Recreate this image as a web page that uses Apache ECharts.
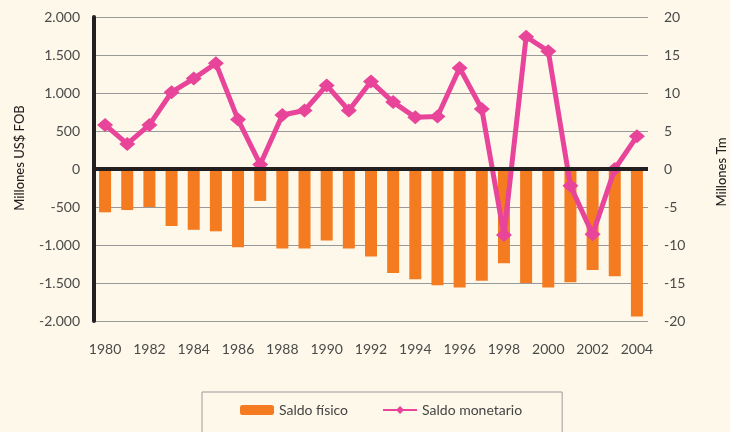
<!DOCTYPE html>
<html>
<head>
<meta charset="utf-8">
<script src="https://cdn.jsdelivr.net/npm/echarts@6/dist/echarts.min.js"></script>
<style>
    html, body { margin: 0; padding: 0; background: #fdf8e9; }
    #chart { width: 730px; height: 432px; }
</style>
</head>
<body>
<div id="chart"></div>
<script>
// 年份
const years = ['1980', '1981', '1982', '1983', '1984', '1985', '1986', '1987', '1988', '1989',
    '1990', '1991', '1992', '1993', '1994', '1995', '1996', '1997', '1998', '1999',
    '2000', '2001', '2002', '2003', '2004']
// 实物差额 (Millones Tm)
const saldoFisico = [-5.7, -5.4, -5.0, -7.5, -8.0, -8.2, -10.3, -4.2, -10.45, -10.45,
    -9.4, -10.45, -11.5, -13.7, -14.5, -15.3, -15.6, -14.7, -12.4, -15.0,
    -15.6, -14.9, -13.3, -14.1, -19.4]
// 货币差额 (Millones US$ FOB)
const saldoMonetario = [580, 330, 580, 1010, 1190, 1390, 650, 60, 710, 770,
    1100, 770, 1150, 880, 680, 690, 1330, 790, -870, 1740,
    1550, -220, -860, 0, 430]

const font = 'Lato, "Open Sans", sans-serif'

;(function () {
    const dom = document.querySelector('#chart')
    const echartsInstance = echarts.init(dom)
    // 千位分隔符用点
    const fmt = v => String(v).replace(/\B(?=(\d{3})+(?!\d))/g, '.')
    const option = {
        backgroundColor: '#fdf8e9',
        animation: false,
        textStyle: { fontFamily: font },
        grid: { left: 94, right: 82, top: 17, bottom: 111 },
        legend: {
            left: 202,
            top: 392,
            padding: [11, 40, 30, 38],
            borderColor: '#9a9a9a',
            borderWidth: 1,
            itemWidth: 34,
            itemHeight: 10,
            itemGap: 34,
            textStyle: { fontSize: 14, color: '#444', fontFamily: font },
            data: ['Saldo físico', 'Saldo monetario']
        },
        graphic: [
            {
                type: 'text',
                x: 20, y: 158,
                rotation: Math.PI / 2,
                style: {
                    text: 'Millones US$ FOB',
                    font: '500 13px ' + font,
                    fill: '#231f20',
                    align: 'center',
                    verticalAlign: 'middle'
                }
            },
            {
                type: 'text',
                x: 722, y: 172,
                rotation: Math.PI / 2,
                style: {
                    text: 'Millones Tm',
                    font: '500 13px ' + font,
                    fill: '#231f20',
                    align: 'center',
                    verticalAlign: 'middle'
                }
            }
        ],
        xAxis: {
            type: 'category',
            data: years,
            axisLine: { show: false, onZero: false },
            axisTick: { show: false },
            axisLabel: { interval: 1, margin: 21, fontSize: 14, color: '#4a4a4a' }
        },
        yAxis: [
            {
                type: 'value',
                min: -2000, max: 2000, interval: 500,
                axisLine: { show: true, lineStyle: { color: '#231f20', width: 4 } },
                axisTick: { show: false },
                axisLabel: { fontSize: 14, color: '#4a4a4a', margin: 14, formatter: fmt },
                splitLine: { lineStyle: { color: '#999', width: 1 } }
            },
            {
                type: 'value',
                min: -20, max: 20, interval: 5,
                axisLine: { show: false },
                axisTick: { show: false },
                axisLabel: { fontSize: 14, color: '#4a4a4a', margin: 16 },
                splitLine: { show: false }
            }
        ],
        series: [
            {
                name: 'Saldo físico',
                type: 'bar',
                yAxisIndex: 1,
                data: saldoFisico,
                barWidth: 12,
                itemStyle: { color: '#f47b20' },
                // 零线
                markLine: {
                    silent: true,
                    symbol: 'none',
                    label: { show: false },
                    lineStyle: { color: '#231f20', width: 4, type: 'solid' },
                    data: [{ yAxis: 0 }]
                }
            },
            {
                name: 'Saldo monetario',
                type: 'line',
                yAxisIndex: 0,
                data: saldoMonetario,
                symbol: 'diamond',
                symbolSize: [16, 14],
                lineStyle: { color: '#e8449a', width: 5 },
                itemStyle: { color: '#e8449a' }
            }
        ]
    }
    echartsInstance.setOption(option)
    window.addEventListener('resize', () => {
        echartsInstance.resize()
    })
})()
</script>
</body>
</html>
